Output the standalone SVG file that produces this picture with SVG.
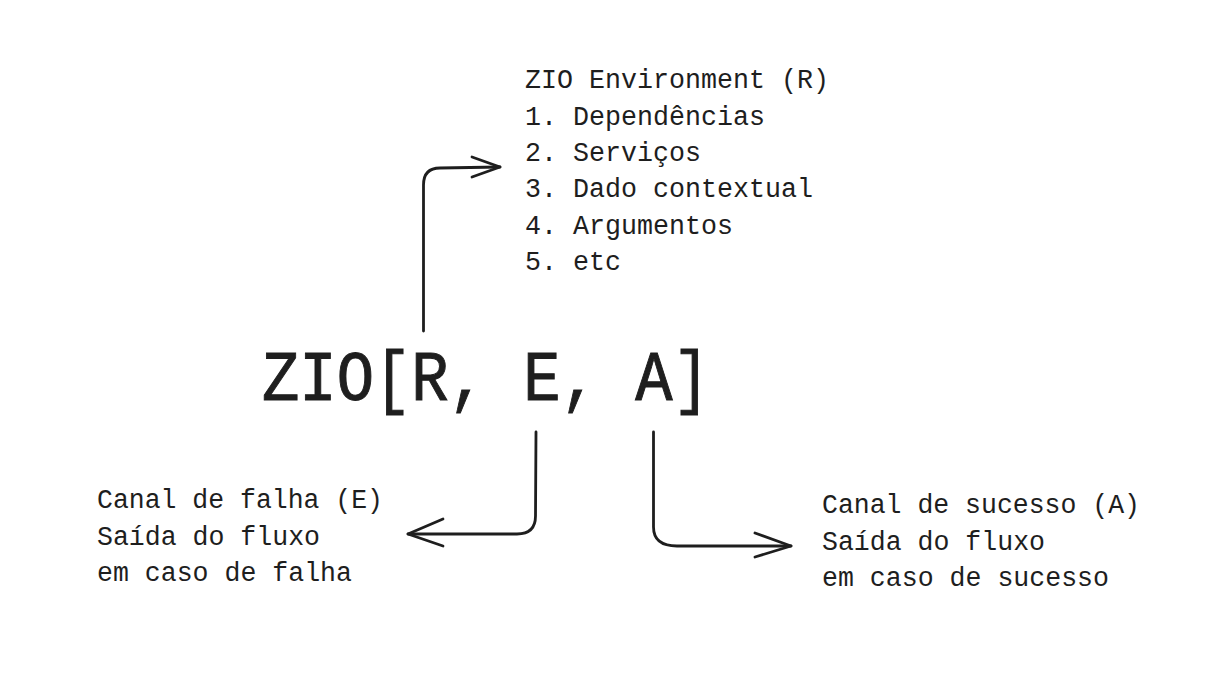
<svg xmlns="http://www.w3.org/2000/svg" width="1225" height="695" viewBox="0 0 1225 695">
<style>
.t{font-family:"Liberation Mono","DejaVu Sans Mono",monospace;font-size:27px;fill:#1e1e1e}
.big{font-family:"Liberation Mono","DejaVu Sans Mono",monospace;font-size:70px;fill:#1e1e1e;stroke:#1e1e1e;stroke-width:1}
.c{fill:none;stroke:#1e1e1e;stroke-width:2.8;stroke-linecap:round;stroke-linejoin:round}
</style>
<rect width="1225" height="695" fill="#ffffff"/>
<g id="connectors">
<path class="c" d="M423.5,331 L423.5,185 Q423.5,168 440,168 L500,167"/>
<path class="c" d="M472,157 L500,167 L472,177"/>
<path class="c" d="M536,432 L535.5,516 Q535.5,534 517,534 L408,534"/>
<path class="c" d="M443,519 L408,534 L443,546"/>
<path class="c" d="M653.5,432 L653.5,527 Q653.5,546 677,546 L791,546"/>
<path class="c" d="M755,533 L791,546 L755,557"/>
</g>
<g id="zio">
<text class="big" x="262" y="400" textLength="448" lengthAdjust="spacingAndGlyphs">ZIO[R, E, A]</text>
</g>
<g id="environment">
<text class="t" x="525" y="88" textLength="304" lengthAdjust="spacingAndGlyphs">ZIO Environment (R)</text>
<text class="t" x="525" y="125" textLength="240" lengthAdjust="spacingAndGlyphs">1. Dependências</text>
<text class="t" x="525" y="161" textLength="176" lengthAdjust="spacingAndGlyphs">2. Serviços</text>
<text class="t" x="525" y="197" textLength="288" lengthAdjust="spacingAndGlyphs">3. Dado contextual</text>
<text class="t" x="525" y="234" textLength="208" lengthAdjust="spacingAndGlyphs">4. Argumentos</text>
<text class="t" x="525" y="270" textLength="96" lengthAdjust="spacingAndGlyphs">5. etc</text>
</g>
<g id="falha">
<text class="t" x="97" y="508" textLength="286" lengthAdjust="spacingAndGlyphs">Canal de falha (E)</text>
<text class="t" x="97" y="545" textLength="223" lengthAdjust="spacingAndGlyphs">Saída do fluxo</text>
<text class="t" x="97" y="581" textLength="255" lengthAdjust="spacingAndGlyphs">em caso de falha</text>
</g>
<g id="sucesso">
<text class="t" x="822" y="513" textLength="318" lengthAdjust="spacingAndGlyphs">Canal de sucesso (A)</text>
<text class="t" x="822" y="550" textLength="223" lengthAdjust="spacingAndGlyphs">Saída do fluxo</text>
<text class="t" x="822" y="586" textLength="287" lengthAdjust="spacingAndGlyphs">em caso de sucesso</text>
</g>
</svg>
